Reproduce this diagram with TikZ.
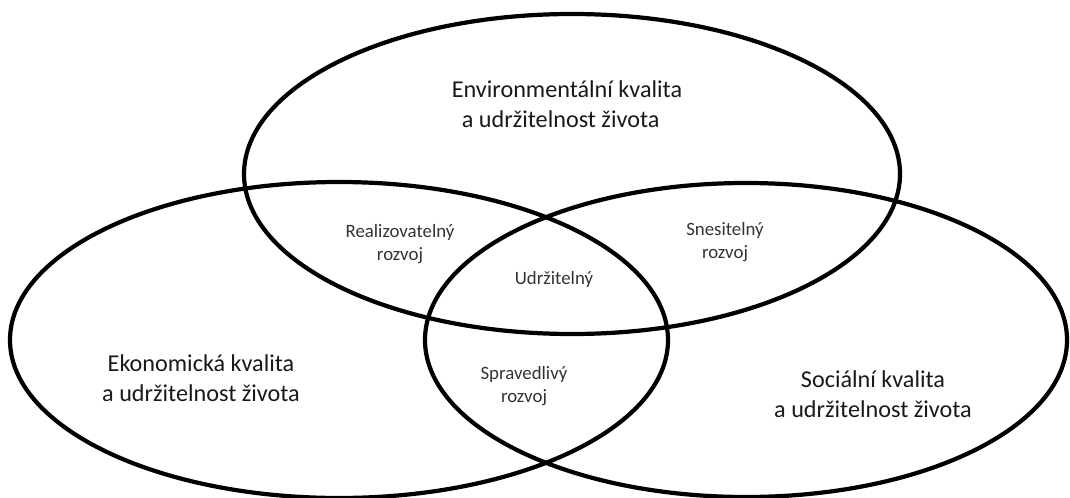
\documentclass[tikz,border=0pt]{standalone}
\usepackage{fontspec}
\setmainfont{Carlito}
\usepackage{tikz}
\usetikzlibrary{calc}

\tikzset{
  kruh/.style={line width=3pt},
  velky/.style={align=center, font=\fontsize{17.2}{21.3}\selectfont, text=black!90},
  maly/.style={align=center, font=\fontsize{13.4}{16.3}\selectfont, text=black!80}
}

\begin{document}
\begin{tikzpicture}[x=0.025cm, y=-0.025cm]
\useasboundingbox (0,0) rectangle (1070,498);
%\draw [help lines, step=50] (0,0) grid (1070,498);
\draw [kruh] (572,174) ellipse [x radius=328, y radius=160];
\draw [kruh] (339,340) ellipse [x radius=329, y radius=158];
\draw [kruh] (746,340) ellipse [x radius=321, y radius=157];

\node [velky, align=left] (env) at (567,104) {Environmentální kvalita\\ \hspace*{0.25cm}a udržitelnost života};
\node [velky] (eko) at (201,378) {Ekonomická kvalita\\a udržitelnost života};
\node [velky] (soc) at (873,394) {Sociální kvalita\\a udržitelnost života};

\node [maly] (real) at (400,244) {Realizovatelný\\rozvoj};
\node [maly] (snes) at (725,242) {Snesitelný\\rozvoj};
\node [maly] (udrz) at (554,279) {Udržitelný};
\node [maly] (sprav) at (524,386) {Spravedlivý\\rozvoj};
\end{tikzpicture}
\end{document}
